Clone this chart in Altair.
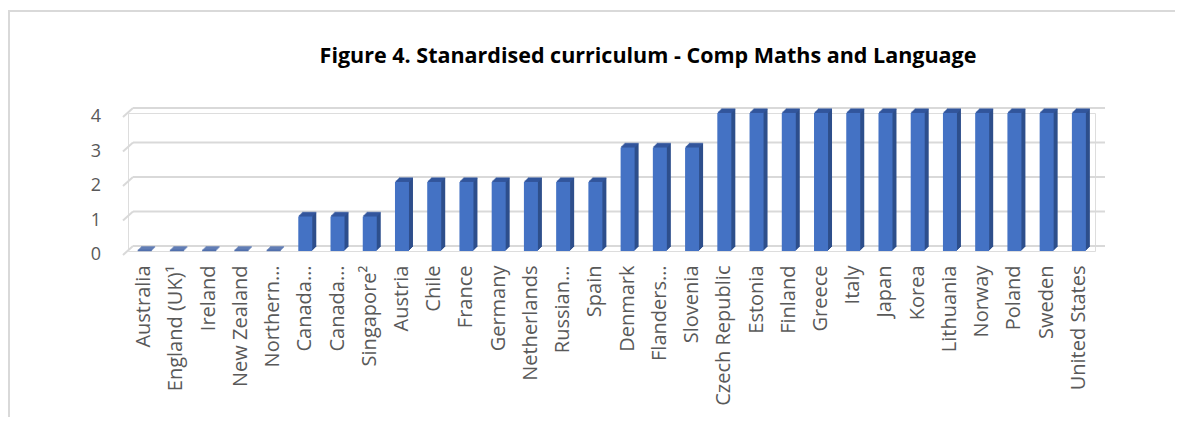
import altair as alt
import pandas as pd

countries = [
    "Australia", "England (UK)¹", "Ireland", "New Zealand", "Northern…",
    "Canada…", "Canada… ", "Singapore²", "Austria", "Chile", "France",
    "Germany", "Netherlands", "Russian…", "Spain", "Denmark", "Flanders…",
    "Slovenia", "Czech Republic", "Estonia", "Finland", "Greece", "Italy",
    "Japan", "Korea", "Lithuania", "Norway", "Poland", "Sweden", "United States",
]
values = [0, 0, 0, 0, 0, 1, 1, 1, 2, 2, 2, 2, 2, 2, 2, 3, 3, 3,
          4, 4, 4, 4, 4, 4, 4, 4, 4, 4, 4, 4]
y_ticks = [0, 1, 2, 3, 4]
title_text = ["Figure 4. Stanardised curriculum - Comp Maths and Language"]

df = pd.DataFrame({"country": countries, "value": values})
ticks_df = pd.DataFrame({"t": y_ticks})
title_df = pd.DataFrame({"title": title_text})

FRONT = "#4472C4"
SIDE = "#2E4F8C"
TOP = "#3559A0"
GRID = "#D9D9D9"
TEXT = "#595959"
FONT = "Open Sans"

W, H = 967, 138
xs = alt.X("country:N", sort=None, axis=alt.Axis(
    labelAngle=-90, labelAlign="right", labelBaseline="middle",
    labelFont=FONT, labelFontSize=20, labelColor=TEXT, labelPadding=14,
    ticks=False, domain=False, grid=False, title=None, labelLimit=300),
    scale=alt.Scale(paddingInner=0.55, paddingOuter=0.275))
ys = alt.Y("value:Q", axis=None, scale=alt.Scale(domain=[0, 4], nice=False))

one = alt.Data(values=[{}])

frame_top = alt.Chart(one).mark_rule(color=GRID, strokeWidth=2).encode(
    x=alt.value(-120), x2=alt.value(1200), y=alt.value(-102))
frame_left = alt.Chart(one).mark_rule(color=GRID, strokeWidth=3).encode(
    x=alt.value(-119.5), y=alt.value(-103), y2=alt.value(400))

title = alt.Chart(title_df).mark_text(
    font=FONT, fontSize=21.5, fontWeight="bold", color="#000000",
    align="center", baseline="middle").encode(
    x=alt.value(520), y=alt.value(-56), text="title:N")

grid = alt.Chart(ticks_df).mark_rule(color=GRID, strokeWidth=2, yOffset=-5).encode(
    x=alt.value(5), x2=alt.value(977),
    y=alt.Y("t:Q", scale=alt.Scale(domain=[0, 4], nice=False), axis=None))
slant = alt.Chart(ticks_df).mark_rule(color=GRID, strokeWidth=2, yOffset=4, y2Offset=-5).encode(
    x=alt.value(-5), x2=alt.value(5),
    y=alt.Y("t:Q", scale=alt.Scale(domain=[0, 4], nice=False), axis=None),
    y2="t:Q")
ylabels = alt.Chart(ticks_df).mark_text(
    align="right", baseline="middle", dy=4, font=FONT, fontSize=18, color=TEXT).encode(
    x=alt.value(-27),
    y=alt.Y("t:Q", scale=alt.Scale(domain=[0, 4], nice=False), axis=None),
    text="t:Q")

base = alt.Chart(df)
layers = [frame_top, frame_left, title, grid, slant, ylabels]
for k in [4, 3, 2, 1]:
    layers.append(base.mark_bar(color=SIDE, size=14, xOffset=k, yOffset=-k, y2Offset=-k).encode(
        x=xs, y=ys))
for k in [4, 3, 2, 1, 0.5]:
    layers.append(base.mark_tick(color=TOP, size=14, thickness=1.5, orient="horizontal",
                                 xOffset=k, yOffset=-k).encode(x=xs, y=ys))
layers.append(base.mark_bar(color=FRONT, size=14).encode(x=xs, y=ys))

chart = alt.layer(*layers).properties(
    width=W, height=H,
    autosize=alt.AutoSizeParams(type="none"),
    padding={"left": 120, "top": 105, "right": 80, "bottom": 166},
).configure_view(stroke=None).configure(background="white")

chart.save("out.html", embed_options={"renderer": "svg", "actions": False})
